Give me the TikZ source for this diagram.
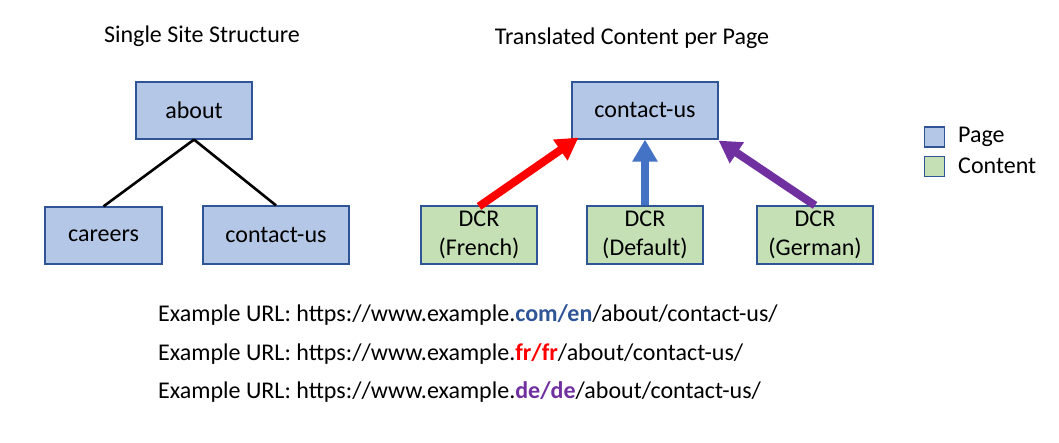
\documentclass[tikz,border=0pt]{standalone}
\usepackage{fontspec}
\setmainfont{Carlito}
\usetikzlibrary{arrows.meta,calc}
\definecolor{pagefill}{HTML}{B4C7E7}
\definecolor{contentfill}{HTML}{C5E0B4}
\definecolor{boxborder}{HTML}{2F5597}
\definecolor{arrred}{HTML}{FF0000}
\definecolor{arrblue}{HTML}{4472C4}
\definecolor{arrpurple}{HTML}{7030A0}
\definecolor{urlblue}{HTML}{2F5597}
\begin{document}
\begin{tikzpicture}[x=1pt,y=-1pt,
  every node/.style={font=\fontsize{24}{28.8}\selectfont, inner sep=0pt},
  pagebox/.style={draw=boxborder, line width=1.2pt, fill=pagefill, minimum height=57pt},
  contentbox/.style={draw=boxborder, line width=1.2pt, fill=contentfill, minimum width=116pt, minimum height=58pt, align=center, font=\fontsize{24}{29}\selectfont},
  treeline/.style={line width=2.6pt, black},
  fatarrow/.style={line width=8pt, -{Triangle[width=24pt,length=22pt]}},
  legendsq/.style={draw=boxborder, line width=1.2pt, minimum width=20pt, minimum height=20pt}
]
\useasboundingbox (0,0) rectangle (1059,443);
% titles
\node (t1) at (202,36) {Single Site Structure};
\node (t2) at (632,38) {Translated Content per Page};
% left tree
\node[pagebox, minimum width=116pt] (about) at (194,110.5) {about};
\node[pagebox, minimum width=117pt] (careers) at (103.5,235.5) {careers};
\node[pagebox, minimum width=146pt, minimum height=58pt] (contact) at (276,235) {contact-us};
\draw[treeline] (about.south) -- (careers.north);
\draw[treeline] (about.south) -- (contact.north);
% right side
\node[pagebox, minimum width=146pt] (c2) at (645,110.5) {contact-us};
\node[contentbox] (fr) at (479,235) {DCR\\(French)};
\node[contentbox] (def) at (645,235) {DCR\\(Default)};
\node[contentbox] (de) at (815,235) {DCR\\(German)};
\coordinate (frtip) at ($(c2.south west)+(7,-2)$);
\coordinate (detip) at ($(c2.south east)+(0,1)$);
\draw[fatarrow, arrred] ([yshift=-1pt]fr.north) -- (frtip);
\draw[fatarrow, arrblue] (def.north) -- (c2.south);
\draw[fatarrow, arrpurple] (de.north) -- (detip);
% legend
\node[legendsq, fill=pagefill] (lp) at (934.5,137) {};
\node[legendsq, fill=contentfill] (lc) at (934.5,166.5) {};
\node[anchor=west] (lpt) at (958,137) {Page};
\node[anchor=west] (lct) at (958,166) {Content};
% URLs
\node[anchor=west] (u1) at (158,315) {Example URL: https://www.example.{\bfseries\color{urlblue}com/en}/about/contact-us/};
\node[anchor=west] (u2) at (158,354) {Example URL: https://www.example.{\bfseries\color{arrred}fr/fr}/about/contact-us/};
\node[anchor=west] (u3) at (158,392) {Example URL: https://www.example.{\bfseries\color{arrpurple}de/de}/about/contact-us/};
\end{tikzpicture}
\end{document}
